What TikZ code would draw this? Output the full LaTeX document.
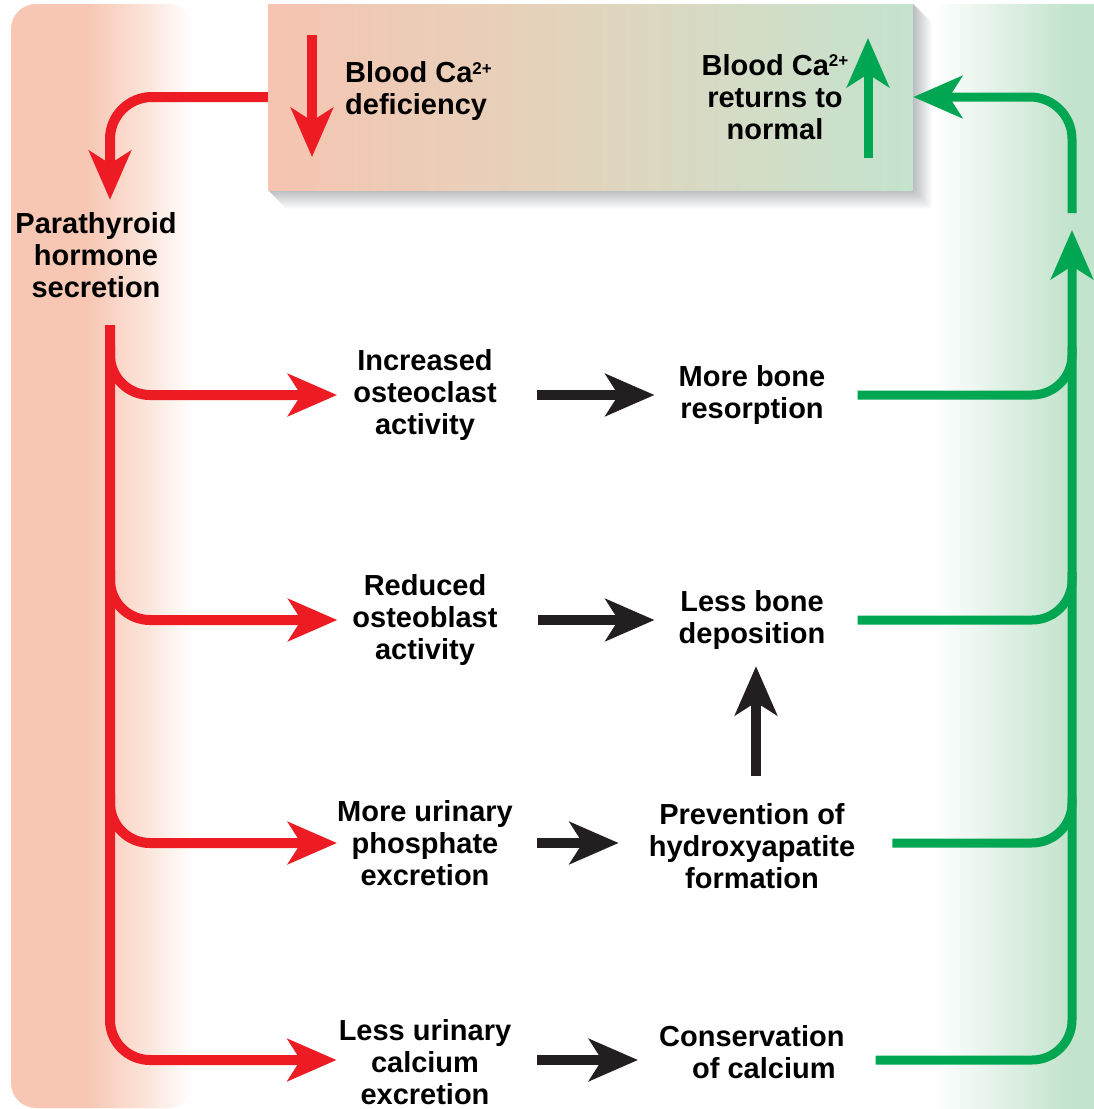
\documentclass[tikz,border=0pt]{standalone}
\usepackage{fontspec}
\setmainfont{Liberation Sans}
\usetikzlibrary{arrows.meta,calc}
\definecolor{pred}{RGB}{237,28,36}
\definecolor{pgreen}{RGB}{0,166,81}
\definecolor{pblack}{RGB}{35,31,32}
\definecolor{salm}{RGB}{247,199,180}
\definecolor{salmH}{RGB}{251,228,218}
\definecolor{mint}{RGB}{194,227,204}
\definecolor{mintH}{RGB}{225,241,230}
\definecolor{boxL}{RGB}{246,196,176}
\definecolor{boxM}{RGB}{226,213,190}
\definecolor{boxR}{RGB}{196,227,206}
\definecolor{shad}{RGB}{185,188,192}
\pgfdeclarehorizontalshading{lpan}{100bp}{color(0bp)=(salm); color(25bp)=(salm); color(46bp)=(salm); color(62bp)=(salmH); color(75bp)=(white); color(100bp)=(white)}
\pgfdeclarehorizontalshading{rpan}{100bp}{color(0bp)=(white); color(29bp)=(white); color(45bp)=(mintH); color(62bp)=(mint); color(100bp)=(mint)}
\newcommand\CaSup{\raisebox{8.5pt}{\fontsize{17}{17}\selectfont 2+}}
\begin{document}
\begin{tikzpicture}[x=1pt,y=-1pt,
  txt/.style={font=\fontsize{29}{32}\selectfont\bfseries, inner sep=0pt, align=center, text=black},
  tip/.style={-{Stealth[length=49pt,width=42pt,inset=13pt]}},
  redln/.style={draw=pred, line width=10pt},
  grnln/.style={draw=pgreen, line width=9pt},
  blkln/.style={draw=pblack, line width=10pt},
  topbox/.style={minimum width=645pt, minimum height=186pt, inner sep=0pt,
    left color=boxL, right color=boxR, middle color=boxM},
]
\useasboundingbox (0,0) rectangle (1094,1109);
\fill[white] (0,0) rectangle (1094,1109);
% side panels
\shade[shading=lpan, rounded corners=25pt] (11,4) rectangle (193,1108);
\shade[shading=rpan, rounded corners=25pt] (918,4) rectangle (1124,1112);

% top box with its cast shadow
\shade[top color=shad, bottom color=white] (268,190) -- (913,190) -- (932,209) -- (287,209) -- cycle;
\shade[left color=shad, right color=white] (913,4) -- (932,23) -- (932,209) -- (913,190) -- cycle;
\node[topbox] (top) at (590.5,97) {};
\draw[redln, tip] (312,35) -- (312,157);
\draw[grnln, tip] (868,158) -- (868,38);
\node[txt, align=left, anchor=west] (defi) at (345,91) {Blood Ca\CaSup\\deficiency};
\node[txt] (norm) at (775,97) {Blood Ca\CaSup\\returns to\\normal};

% left column
\node[txt, minimum height=110pt] (par) at (96,255) {Parathyroid\\hormone\\secretion};
\node[txt] (inc) at (425,395) {Increased\\osteoclast\\activity};
\node[txt] (rob) at (425,620) {Reduced\\osteoblast\\activity};
\node[txt] (mup) at (425,843) {More urinary\\phosphate\\excretion};
\node[txt] (lup) at (425,1062) {Less urinary\\calcium\\excretion};

% middle column
\node[txt] (mbr) at (752,395) {More bone\\resorption};
\node[txt, minimum height=80pt] (lbd) at (752,620) {Less bone\\deposition};
\node[txt, minimum height=110pt] (prev) at (752,846) {Prevention of\\hydroxyapatite\\formation};
\node[txt, align=left, anchor=west] (cons) at (659,1052) {Conservation\\\hspace*{33pt}of calcium};

% coordinates
\coordinate (rtop) at ([xshift=14pt,yshift=-15pt]par.south);
\coordinate (gx) at (1072,230);
\coordinate (gtop) at (1072,213);

% red connectors
\draw[redln, tip, rounded corners=42pt] (top.west) -| ([xshift=14pt]par.north);
\draw[redln, tip, rounded corners=40pt] (rtop) |- ([xshift=-2pt,yshift=2pt]lup.west);
\draw[redln, tip, rounded corners=40pt] (rtop |- inc.west) ++(0,-50) |- ([xshift=-16pt]inc.west);
\draw[redln, tip, rounded corners=40pt] (rtop |- rob.west) ++(0,-50) |- ([xshift=-15pt]rob.west);
\draw[redln, tip, rounded corners=40pt] (rtop |- mup.west) ++(0,-50) |- (mup.west);

% black connectors
\draw[blkln, tip, shorten <=40pt, shorten >=24pt] (inc.east) -- (inc.east -| mbr.west);
\draw[blkln, tip, shorten <=40pt, shorten >=24pt] (rob.east) -- (rob.east -| lbd.west);
\draw[blkln, tip, shorten <=24pt, shorten >=30pt] (mup.east) -- (mup.east -| prev.west);
\draw[blkln, tip, shorten <=26pt, shorten >=21pt] ([yshift=2pt]lup.east) -- ([yshift=2pt]lup.east -| cons.west);
\draw[blkln, tip, shorten <=15pt, shorten >=6pt] ([xshift=4pt]prev.north) -- ([xshift=4pt]lbd.south);

% green connectors
\draw[grnln, tip, rounded corners=42pt] (gtop) |- (top.east);
\draw[grnln, tip, rounded corners=40pt, shorten <=31pt] ([yshift=-8pt]cons.east) -| (gx);
\draw[grnln, rounded corners=40pt, shorten <=32pt] (mbr.east) -| ($(gx |- mbr.east)+(0,-48)$);
\draw[grnln, rounded corners=40pt, shorten <=32pt] (lbd.east) -| ($(gx |- lbd.east)+(0,-48)$);
\draw[grnln, rounded corners=40pt, shorten <=37pt] ([yshift=3pt]prev.east) -| ($(gx |- prev.east)+(0,-48)$);
\end{tikzpicture}
\end{document}
